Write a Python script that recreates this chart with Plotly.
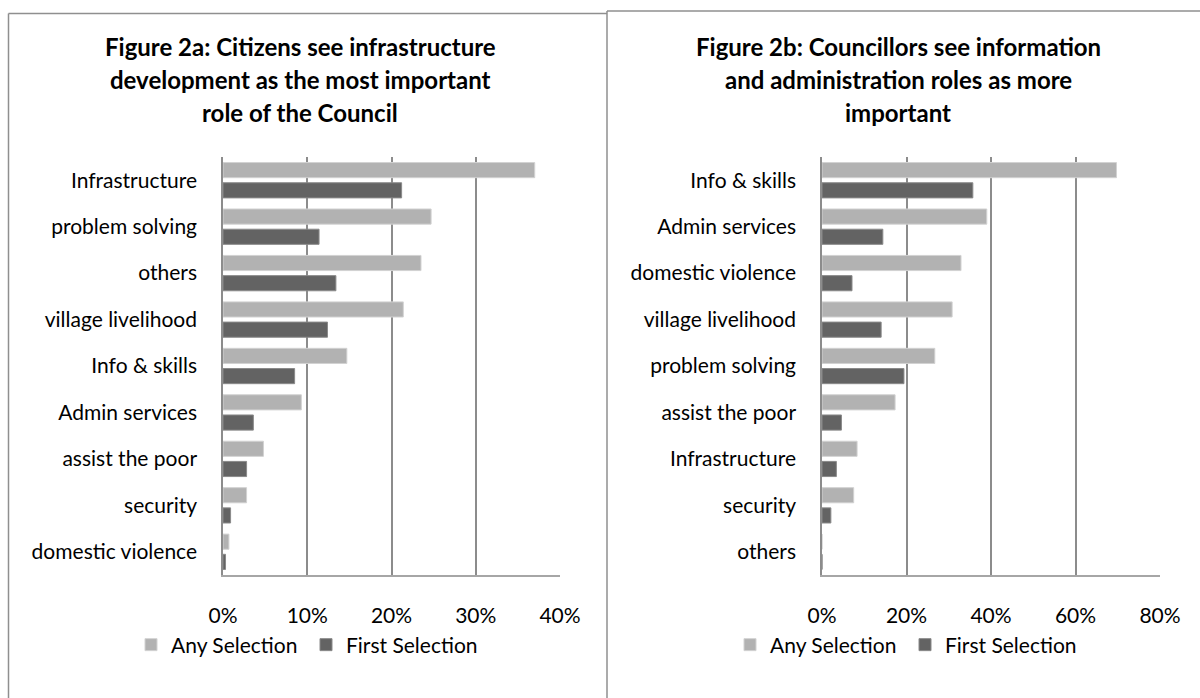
import plotly.graph_objects as go

# Figure 2a: citizens (percent of respondents)
cats_a = ["Infrastructure", "problem solving", "others", "village livelihood",
          "Info & skills", "Admin services", "assist the poor", "security",
          "domestic violence"]
any_a = [37.0, 24.7, 23.5, 21.4, 14.7, 9.3, 4.8, 2.8, 0.7]
first_a = [21.2, 11.4, 13.4, 12.4, 8.5, 3.6, 2.8, 0.9, 0.3]

# Figure 2b: councillors (percent of respondents)
cats_b = ["Info & skills", "Admin services", "domestic violence", "village livelihood",
          "problem solving", "assist the poor", "Infrastructure", "security", "others"]
any_b = [69.7, 39.0, 32.9, 30.8, 26.7, 17.3, 8.3, 7.5, 0.0]
first_b = [35.7, 14.4, 7.1, 14.0, 19.4, 4.6, 3.4, 2.1, 0.0]

ticks_a = [0, 10, 20, 30, 40]
ticklabels_a = ["0%", "10%", "20%", "30%", "40%"]
ticks_b = [0, 20, 40, 60, 80]
ticklabels_b = ["0%", "20%", "40%", "60%", "80%"]

title_a = ["Figure 2a: Citizens see infrastructure",
           "development as the most important",
           "role of the Council"]
title_b = ["Figure 2b: Councillors see information",
           "and administration roles as more",
           "important"]

ANY_COLOR = "#b2b2b2"
FIRST_COLOR = "#636363"
GRID = "#8c8c8c"
FONT = "Lato"
TICK_SIZE = 21
W, H = 1200, 698

fig = go.Figure()
fig.add_trace(go.Bar(y=cats_a, x=any_a, orientation="h", name="Any Selection",
                     marker=dict(color=ANY_COLOR, line=dict(color="#d2d2d2", width=1)),
                     xaxis="x", yaxis="y", legend="legend"))
fig.add_trace(go.Bar(y=cats_a, x=first_a, orientation="h", name="First Selection",
                     marker=dict(color=FIRST_COLOR, line=dict(color="#8a8a8a", width=1)),
                     xaxis="x", yaxis="y", legend="legend"))
fig.add_trace(go.Bar(y=cats_b, x=any_b, orientation="h", name="Any Selection",
                     marker=dict(color=ANY_COLOR, line=dict(color="#d2d2d2", width=1)),
                     xaxis="x2", yaxis="y2", legend="legend2"))
fig.add_trace(go.Bar(y=cats_b, x=first_b, orientation="h", name="First Selection",
                     marker=dict(color=FIRST_COLOR, line=dict(color="#8a8a8a", width=1)),
                     xaxis="x2", yaxis="y2", legend="legend2"))


def px_x(v):
    return v / W


def px_y(v):
    return 1 - v / H


ydom = [px_y(575), px_y(157)]

xaxis_common = dict(showgrid=True, gridcolor=GRID, gridwidth=1.5, zeroline=False,
                    showline=True, linecolor="#a6a6a6", linewidth=1.5,
                    ticks="", tickmode="array", ticklabelstandoff=21, automargin=False,
                    tickfont=dict(family=FONT, size=TICK_SIZE, color="#000"))
yaxis_common = dict(autorange="reversed", showgrid=False, zeroline=False,
                    showline=True, linecolor=GRID, linewidth=1.5, ticks="",
                    ticklabelstandoff=20, domain=ydom, automargin=False,
                    tickfont=dict(family=FONT, size=TICK_SIZE, color="#000"))

legend_common = dict(orientation="h", xanchor="center", y=px_y(645), yanchor="middle",
                     font=dict(family=FONT, size=TICK_SIZE), traceorder="normal",
                     itemwidth=30, entrywidth=130)

fig.update_layout(
    width=W, height=H,
    margin=dict(l=0, r=0, t=0, b=0, autoexpand=False),
    paper_bgcolor="white", plot_bgcolor="white",
    barmode="group", bargap=0.13, bargroupgap=0.25,
    font=dict(family=FONT, color="#000"),
    xaxis=dict(domain=[px_x(223), px_x(560)], range=[0, 40], tickvals=ticks_a,
               ticktext=ticklabels_a, anchor="y", **xaxis_common),
    yaxis=dict(anchor="x", **yaxis_common),
    xaxis2=dict(domain=[px_x(822), px_x(1160)], range=[0, 80], tickvals=ticks_b,
                ticktext=ticklabels_b, anchor="y2", **xaxis_common),
    yaxis2=dict(anchor="x2", **yaxis_common),
    legend=dict(x=px_x(306), **legend_common),
    legend2=dict(x=px_x(905), **legend_common),
)

# panel frames
frame = dict(color="#8f8f8f", width=1.5)
fig.add_shape(type="line", xref="paper", yref="paper", x0=px_x(8.5), x1=px_x(8.5),
              y0=px_y(13.5), y1=0, line=frame)
fig.add_shape(type="line", xref="paper", yref="paper", x0=px_x(8.5), x1=px_x(607),
              y0=px_y(13.5), y1=px_y(13.5), line=frame)
fig.add_shape(type="line", xref="paper", yref="paper", x0=px_x(607), x1=px_x(607),
              y0=px_y(11), y1=0, line=frame)
fig.add_shape(type="line", xref="paper", yref="paper", x0=px_x(607), x1=1,
              y0=px_y(11), y1=px_y(11), line=frame)

# titles, one annotation per line
for lines, cx in ((title_a, 300), (title_b, 898)):
    for i, line in enumerate(lines):
        fig.add_annotation(text=line, xref="paper", yref="paper", x=px_x(cx),
                           y=px_y(47 + 32.5 * i), xanchor="center", yanchor="middle",
                           showarrow=False,
                           font=dict(family=FONT, size=24, color="#000", weight="bold"))

fig.write_html("out.html")
